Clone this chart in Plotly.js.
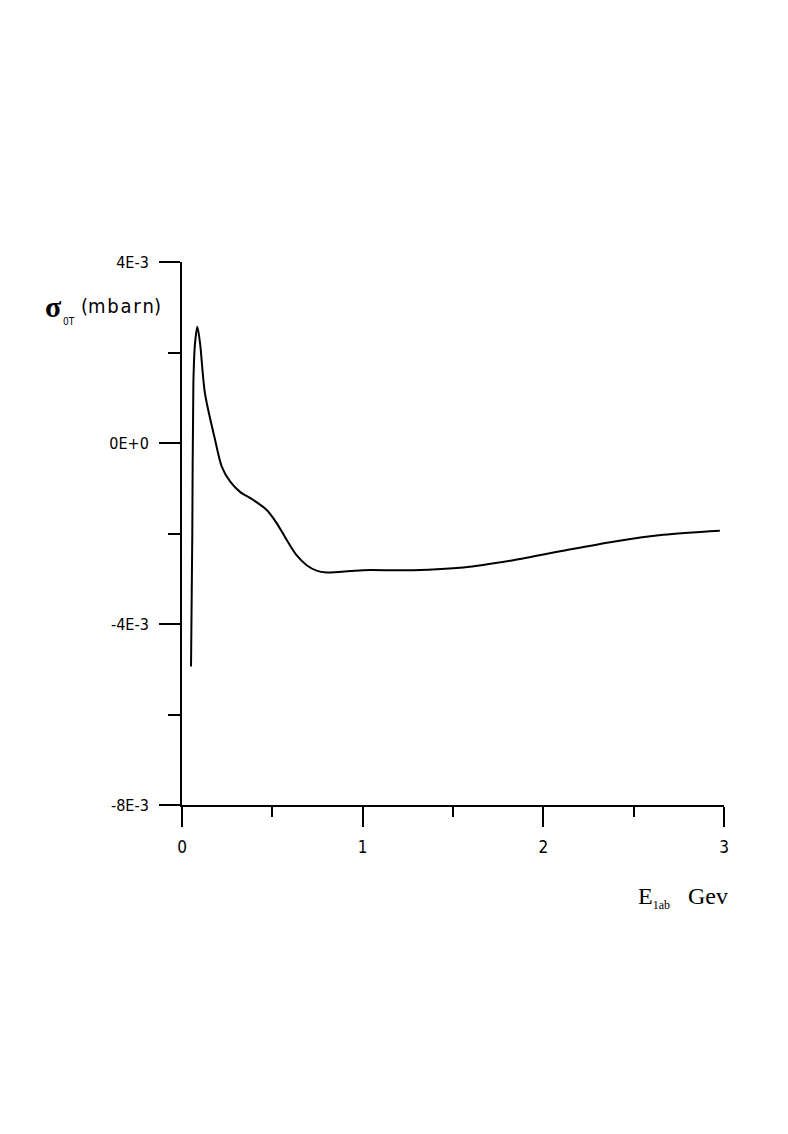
<!DOCTYPE html>
<html><head><meta charset="utf-8">
<script src="https://cdn.plot.ly/plotly-3.0.1.min.js"></script>
<style>html,body{margin:0;padding:0;background:#fff}</style>
</head><body><div id="chart" style="width:788px;height:1134px"></div>
<script>
const energyGeV = [0.05,0.057,0.063,0.072,0.085,0.1,0.127,0.183,0.22,0.266,0.321,0.395,0.469,0.524,0.579,0.634,0.69,0.745,0.80,0.93,1.003,1.28,1.557,1.834,2.11,2.387,2.664,2.977];
const sigmaMb = [-4.94e-3,-1.99e-3,1.33e-3,2.2e-3,2.57e-3,2.2e-3,1.1e-3,0.07e-3,-0.52e-3,-0.85e-3,-1.08e-3,-1.26e-3,-1.48e-3,-1.77e-3,-2.14e-3,-2.48e-3,-2.70e-3,-2.82e-3,-2.86e-3,-2.83e-3,-2.81e-3,-2.81e-3,-2.75e-3,-2.59e-3,-2.38e-3,-2.18e-3,-2.03e-3,-1.94e-3];
const yTickVals = [4e-3, 0, -4e-3, -8e-3];
const yTickText = ['4E-3', '0E+0', '-4E-3', '-8E-3'];
const xTickVals = [0, 1, 2, 3];
const xTickText = ['0', '1', '2', '3'];

Plotly.newPlot('chart', [{
  x: energyGeV, y: sigmaMb, mode: 'lines', type: 'scatter',
  line: {color: '#000', width: 2, shape: 'spline', smoothing: 0.8}, hoverinfo: 'none'
}], {
  width: 788, height: 1134,
  margin: {l: 182, r: 64, t: 262, b: 329},
  paper_bgcolor: '#fff', plot_bgcolor: '#fff',
  showlegend: false,
  xaxis: {range: [0, 3], showgrid: false, zeroline: false, showline: true, linecolor: '#000', linewidth: 2,
    tickmode: 'array', tickvals: xTickVals, ticktext: xTickText, ticks: 'outside', ticklen: 20, tickwidth: 2, tickcolor: '#000',
    ticklabelstandoff: 6,
    minor: {dtick: 0.5, ticks: 'outside', ticklen: 10, tickwidth: 2, tickcolor: '#000', showgrid: false},
    tickfont: {family: 'DejaVu Sans Condensed', size: 17, color: '#000'}},
  yaxis: {range: [-8e-3, 4e-3], showgrid: false, zeroline: false, showline: true, linecolor: '#000', linewidth: 2,
    tickmode: 'array', tickvals: yTickVals, ticktext: yTickText, ticks: 'outside', ticklen: 21, tickwidth: 2, tickcolor: '#000',
    ticklabelstandoff: 7,
    minor: {dtick: 2e-3, ticks: 'outside', ticklen: 12, tickwidth: 2, tickcolor: '#000', showgrid: false},
    tickfont: {family: 'DejaVu Sans Condensed', size: 16, color: '#000'}},
  annotations: [
    {xref: 'paper', yref: 'paper', x: -0.257, y: 1.0, xanchor: 'left', yanchor: 'top', yshift: -26, showarrow: false,
     text: '<b>σ</b>', font: {family: 'Liberation Serif', size: 30, color: '#000'}},
    {xref: 'paper', yref: 'paper', x: -0.223, y: 1.0, xanchor: 'left', yanchor: 'top', yshift: -52, showarrow: false,
     text: '0T', font: {family: 'DejaVu Sans Condensed', size: 10, color: '#000'}},
    {xref: 'paper', yref: 'paper', x: -0.19, y: 1.0, xanchor: 'left', yanchor: 'top', yshift: -30, showarrow: false,
     text: '(m b a r n)'.replace(/ /g, '\u200a'), font: {family: 'DejaVu Sans Condensed', size: 20, color: '#000'}},
    {xref: 'paper', yref: 'paper', x: 0.838, y: 0, xanchor: 'left', yanchor: 'top', yshift: -76, showarrow: false,
     text: 'E<sub><span style="font-size:12px">1ab</span></sub>\u2002 Gev', font: {family: 'Liberation Serif', size: 24, color: '#000'}}
  ]
}, {displayModeBar: false, staticPlot: true});
</script></body></html>
